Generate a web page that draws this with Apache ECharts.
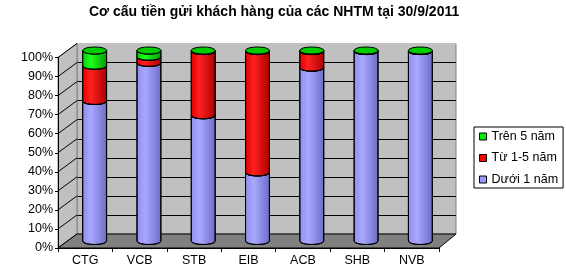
<!DOCTYPE html>
<html>
<head>
<meta charset="utf-8">
<script src="https://cdn.jsdelivr.net/npm/echarts@6/dist/echarts.min.js"></script>
<style>
html,body{margin:0;padding:0;background:#fff;}
#chart{width:566px;height:275px;}
</style>
</head>
<body>
<div id="chart"></div>
<script>
// ---- data ----
const titleText = 'Cơ cấu tiền gửi khách hàng của các NHTM tại 30/9/2011';
const categories = ['CTG', 'VCB', 'STB', 'EIB', 'ACB', 'SHB', 'NVB'];
const seriesNames = ['Dưới 1 năm', 'Từ 1-5 năm', 'Trên 5 năm'];
const duoi1Nam = [73.5, 93.5, 66.0, 36.0, 91.0, 99.7, 99.7];
const tu1Den5Nam = [18.5, 3.2, 33.7, 63.7, 8.7, 0.0, 0.0];
const tren5Nam = [8.0, 3.3, 0.3, 0.3, 0.3, 0.3, 0.3];
const yTicks = [0, 10, 20, 30, 40, 50, 60, 70, 80, 90, 100];

// ---- styling ----
const FONT = 'Arial, "Liberation Sans", sans-serif';
const palettes = [
  { body: ['#8e8ef0', '#a8a8ff', '#6c6cc8'], cap: '#9c9cf4', legend: '#9999ff' },
  { body: ['#e00000', '#ff2020', '#a80000'], cap: '#e80000', legend: '#ff0000' },
  { body: ['#00d000', '#20ff20', '#009a00'], cap: '#00cc00', legend: '#00ee00' }
];
const valueSets = [duoi1Nam, tu1Den5Nam, tren5Nam];

// stacked segments built from the arrays
function buildSegments(idx) {
  return categories.map((c, i) => {
    let start = 0;
    for (let k = 0; k < idx; k++) start += valueSets[k][i];
    return [i, start, start + valueSets[idx][i]];
  });
}

function makeRender(idx) {
  const pal = palettes[idx];
  return function (params, api) {
    const i = api.value(0), v0 = api.value(1), v1 = api.value(2);
    const p0 = api.coord([i, v0]);
    const p1 = api.coord([i, v1]);
    const bw = api.size([1, 0])[0] * 0.44;
    const a = bw / 2, b = 3.5, k = b * 4 / 3;
    const xl = p0[0] - a, xr = p0[0] + a;
    const y0 = p0[1], y1 = p1[1];
    const children = [];
    if (v1 - v0 > 0.001) {
      const body = 'M' + xl + ',' + y1 +
        ' C' + xl + ',' + (y1 + k) + ' ' + xr + ',' + (y1 + k) + ' ' + xr + ',' + y1 +
        ' L' + xr + ',' + y0 +
        ' C' + xr + ',' + (y0 + k) + ' ' + xl + ',' + (y0 + k) + ' ' + xl + ',' + y0 + ' Z';
      children.push({
        type: 'path',
        shape: { pathData: body },
        style: {
          fill: new echarts.graphic.LinearGradient(0, 0, 1, 0, [
            { offset: 0, color: pal.body[0] },
            { offset: 0.35, color: pal.body[1] },
            { offset: 1, color: pal.body[2] }
          ]),
          stroke: '#000', lineWidth: 1
        }
      });
    }
    if (idx === valueSets.length - 1) {
      const cap = 'M' + xl + ',' + y1 +
        ' C' + xl + ',' + (y1 - k) + ' ' + xr + ',' + (y1 - k) + ' ' + xr + ',' + y1 +
        ' C' + xr + ',' + (y1 + k) + ' ' + xl + ',' + (y1 + k) + ' ' + xl + ',' + y1 + ' Z';
      children.push({
        type: 'path',
        shape: { pathData: cap },
        style: { fill: pal.cap, stroke: '#000', lineWidth: 1 }
      });
    }
    return { type: 'group', children: children };
  };
}

const chart = echarts.init(document.getElementById('chart'), null, { renderer: 'canvas' });

// grids: 0 = front axes, 1 = back wall, 2 = cylinders (mid depth)
const G = [
  { left: 58, top: 57.5, width: 381, height: 190.5 },
  { left: 77, top: 43.5, width: 379, height: 190.5 },
  { left: 67.5, top: 50.5, width: 380, height: 190.5 }
];

const series = seriesNames.map((name, idx) => ({
  type: 'custom',
  name: name,
  xAxisIndex: 2,
  yAxisIndex: 2,
  renderItem: makeRender(idx),
  encode: { x: 0, y: [1, 2] },
  itemStyle: { color: palettes[idx].legend },
  data: buildSegments(idx),
  z: 5
}));

const splitColors = yTicks.map(t => (t === 100 ? '#c0c0c0' : '#000'));

chart.setOption({
  animation: false,
  title: {
    text: titleText,
    left: 89,
    top: 5,
    padding: 0,
    textStyle: { fontFamily: FONT, fontSize: 14, fontWeight: 'bold', color: '#000' }
  },
  legend: {
    orient: 'vertical',
    left: 474,
    top: 127,
    padding: [3, 5, 2, 5],
    itemGap: 8.5,
    itemWidth: 7,
    itemHeight: 7,
    icon: 'rect',
    borderColor: '#000',
    borderWidth: 1,
    backgroundColor: '#fff',
    textStyle: { fontFamily: FONT, fontSize: 12.5, color: '#000' },
    data: seriesNames.slice().reverse().map((n) => ({
      name: n,
      icon: 'rect',
      itemStyle: { color: palettes[seriesNames.indexOf(n)].legend, borderColor: '#000', borderWidth: 1 }
    }))
  },
  grid: [
    Object.assign({ show: false }, G[0]),
    Object.assign({ show: true, backgroundColor: '#c0c0c0', borderColor: '#808080', borderWidth: 1 }, G[1]),
    Object.assign({ show: false }, G[2])
  ],
  xAxis: [
    {
      type: 'category', gridIndex: 0, data: categories, boundaryGap: true, z: 4,
      axisLine: { show: true, lineStyle: { color: '#000', width: 1 } },
      axisTick: { show: true, inside: false, length: 4, lineStyle: { color: '#000' } },
      axisLabel: { fontFamily: FONT, fontSize: 12.5, color: '#000', margin: 6 },
      splitLine: { show: false }
    },
    {
      type: 'category', gridIndex: 1, data: categories,
      axisLine: { show: false }, axisTick: { show: false }, axisLabel: { show: false }, splitLine: { show: false }
    },
    {
      type: 'category', gridIndex: 2, data: categories,
      axisLine: { show: false }, axisTick: { show: false }, axisLabel: { show: false }, splitLine: { show: false }
    }
  ],
  yAxis: [
    {
      type: 'value', gridIndex: 0, min: 0, max: 100, interval: 10, z: 4,
      axisLine: { show: true, lineStyle: { color: '#000', width: 1 } },
      axisTick: { show: true, inside: false, length: 3, lineStyle: { color: '#000' } },
      axisLabel: { fontFamily: FONT, fontSize: 12.5, color: '#000', margin: 5, formatter: '{value}%' },
      splitLine: { show: false }
    },
    {
      type: 'value', gridIndex: 1, min: 0, max: 100, interval: 10,
      axisLine: { show: false }, axisTick: { show: false }, axisLabel: { show: false },
      splitLine: { show: true, lineStyle: { color: splitColors, width: 1 } }
    },
    {
      type: 'value', gridIndex: 2, min: 0, max: 100, interval: 10,
      axisLine: { show: false }, axisTick: { show: false }, axisLabel: { show: false }, splitLine: { show: false }
    }
  ],
  series: series
});

// decorations (side wall, floor) computed from axes
const fL = G[0].left, fR = G[0].left + G[0].width;
const bL = G[1].left, bR = G[1].left + G[1].width;
const fy0 = chart.convertToPixel({ yAxisIndex: 0 }, 0);
const fy100 = chart.convertToPixel({ yAxisIndex: 0 }, 100);
const by0 = chart.convertToPixel({ yAxisIndex: 1 }, 0);
const by100 = chart.convertToPixel({ yAxisIndex: 1 }, 100);

const graphics = [];
graphics.push({
  type: 'polygon', z: 1, silent: true,
  shape: { points: [[fL, fy100], [bL, by100], [bL, by0], [fL, fy0]] },
  style: { fill: '#c0c0c0', stroke: '#808080', lineWidth: 1 }
});
yTicks.forEach(t => {
  const fy = chart.convertToPixel({ yAxisIndex: 0 }, t);
  const by = chart.convertToPixel({ yAxisIndex: 1 }, t);
  graphics.push({
    type: 'line', z: 2, silent: true,
    shape: { x1: fL, y1: fy, x2: bL, y2: by },
    style: { stroke: '#000', lineWidth: 1 }
  });
});
graphics.push({
  type: 'polygon', z: 2, silent: true,
  shape: { points: [[fL, fy0], [fR, fy0], [bR, by0], [bL, by0]] },
  style: { fill: '#808080', stroke: '#000', lineWidth: 1 }
});
chart.setOption({ graphic: graphics });
</script>
</body>
</html>
